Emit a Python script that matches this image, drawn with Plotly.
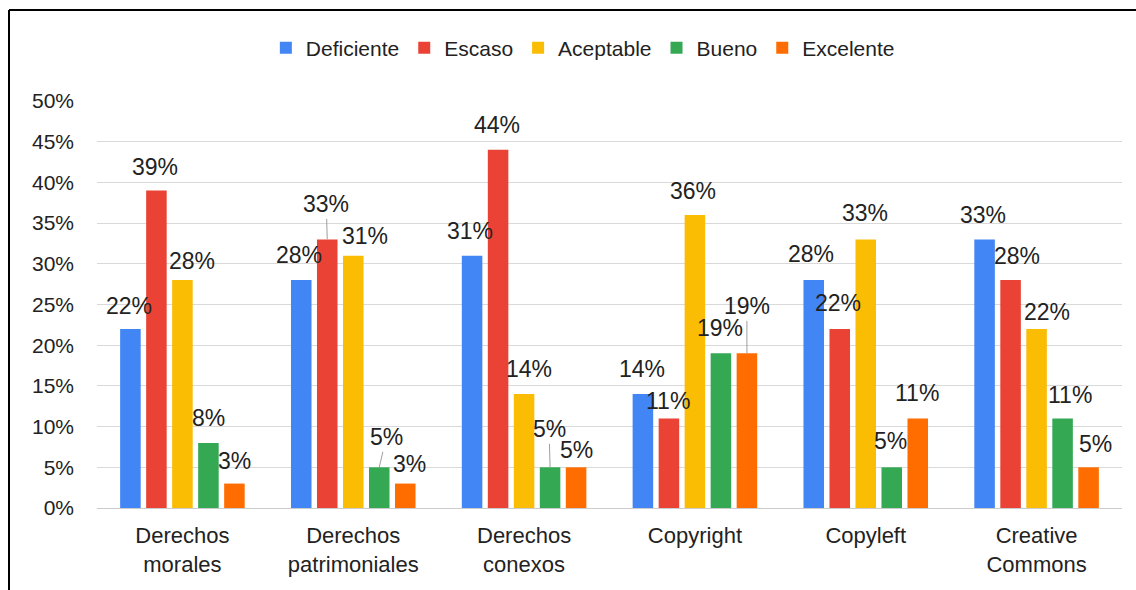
import plotly.graph_objects as go

categories = ["Derechos<br>morales", "Derechos<br>patrimoniales", "Derechos<br>conexos",
              "Copyright", "Copyleft", "Creative<br>Commons"]
series_names = ["Deficiente", "Escaso", "Aceptable", "Bueno", "Excelente"]
deficiente = [22, 28, 31, 14, 28, 33]
escaso = [39, 33, 44, 11, 22, 28]
aceptable = [28, 31, 14, 36, 33, 22]
bueno = [8, 5, 5, 19, 5, 11]
excelente = [3, 3, 5, 19, 11, 5]
series_values = [deficiente, escaso, aceptable, bueno, excelente]
colors = ["#4285F4", "#EA4335", "#FBBC04", "#34A853", "#FF6D01"]
y_tick_values = [0, 5, 10, 15, 20, 25, 30, 35, 40, 45, 50]
y_tick_labels = ["0%", "5%", "10%", "15%", "20%", "25%", "30%", "35%", "40%", "45%", "50%"]

# label placement tweaks (dx, dy in px, leader line flag) per series, per category
label_offsets = [
    [(-1, 23, 0), (-2, 25, 0), (-2, 25, 0), (-1, 25, 0), (-3, 26, 0), (-2, 24, 0)],
    [(-1, 24, 0), (-1, 35, 1), (-1, 25, 0), (-1, 17, 0), (-2, 26, 0), (6, 24, 0)],
    [(10, 19, 0), (12, 20, 0), (5, 25, 0), (-2, 24, 0), (-1, 26, 0), (10, 17, 0)],
    [(0, 25, 0), (7, 30, 1), (-1, 38, 1), (-1, 25, 0), (-1, 26, 0), (7, 23, 0)],
    [(0, 23, 0), (4, 20, 0), (0, 17, 0), (0, 47, 1), (-1, 25, 0), (7, 23, 0)],
]

W, H = 1136, 590
ML, MR, MT, MB = 97, 14, 101, 82
BARGAP, GROUPGAP = 0.239, 0.21
plot_w = W - ML - MR
plot_h = H - MT - MB
slot = plot_w / len(categories) * (1 - BARGAP) / len(series_names)

FONT = "Liberation Sans, Arial, sans-serif"
TXT = "#222222"

fig = go.Figure()
for name, vals, col in zip(series_names, series_values, colors):
    fig.add_trace(go.Bar(name=name, x=categories, y=vals, marker=dict(color=col, line=dict(width=0))))

annotations = []
for si, vals in enumerate(series_values):
    for ci, v in enumerate(vals):
        dx, dy, leader = label_offsets[si][ci]
        base_shift = (si - (len(series_names) - 1) / 2) * slot
        if leader:
            annotations.append(dict(
                x=categories[ci], y=v, xref="x", yref="y", text=f"{v}%",
                xshift=base_shift, showarrow=True, arrowhead=0, arrowwidth=1,
                arrowcolor="#9e9e9e", ax=dx, ay=-dy, standoff=0, startstandoff=0,
                font=dict(family=FONT, size=23, color=TXT)))
        else:
            annotations.append(dict(
                x=categories[ci], y=v, xref="x", yref="y", text=f"{v}%",
                xshift=base_shift + dx, yshift=dy, showarrow=False,
                font=dict(family=FONT, size=23, color=TXT)))

# outer frame (top and left edges visible)
fx0 = (9 - ML) / plot_w
fy1 = 1 + (MT - 10) / plot_h
shapes = [
    dict(type="line", xref="paper", yref="paper", x0=fx0, x1=1.2, y0=fy1, y1=fy1,
         line=dict(color="#000000", width=2)),
    dict(type="line", xref="paper", yref="paper", x0=fx0, x1=fx0, y0=fy1, y1=-0.5,
         line=dict(color="#000000", width=2)),
]

fig.update_layout(
    width=W, height=H,
    margin=dict(l=ML, r=MR, t=MT, b=MB),
    paper_bgcolor="white", plot_bgcolor="white",
    barmode="group", bargap=BARGAP, bargroupgap=GROUPGAP,
    font=dict(family=FONT, color=TXT),
    legend=dict(orientation="h", x=0.474, xanchor="center", y=1 + (MT - 48) / plot_h,
                yanchor="middle", font=dict(family=FONT, size=21, color=TXT),
                itemwidth=30, tracegroupgap=0, bgcolor="rgba(0,0,0,0)"),
    annotations=annotations,
    shapes=shapes,
    xaxis=dict(showgrid=False, tickfont=dict(family=FONT, size=22, color=TXT),
               showline=True, linecolor="#cccccc", linewidth=1, ticks="",
               ticklabelstandoff=8, fixedrange=True),
    yaxis=dict(range=[0, 50], tickmode="array", tickvals=y_tick_values, ticktext=y_tick_labels,
               showgrid=True, gridcolor="#d9d9d9", gridwidth=1, zeroline=False, showline=False,
               tickfont=dict(family=FONT, size=21, color=TXT), ticks="",
               ticklabelstandoff=22, fixedrange=True),
)

fig.write_html("out.html")
